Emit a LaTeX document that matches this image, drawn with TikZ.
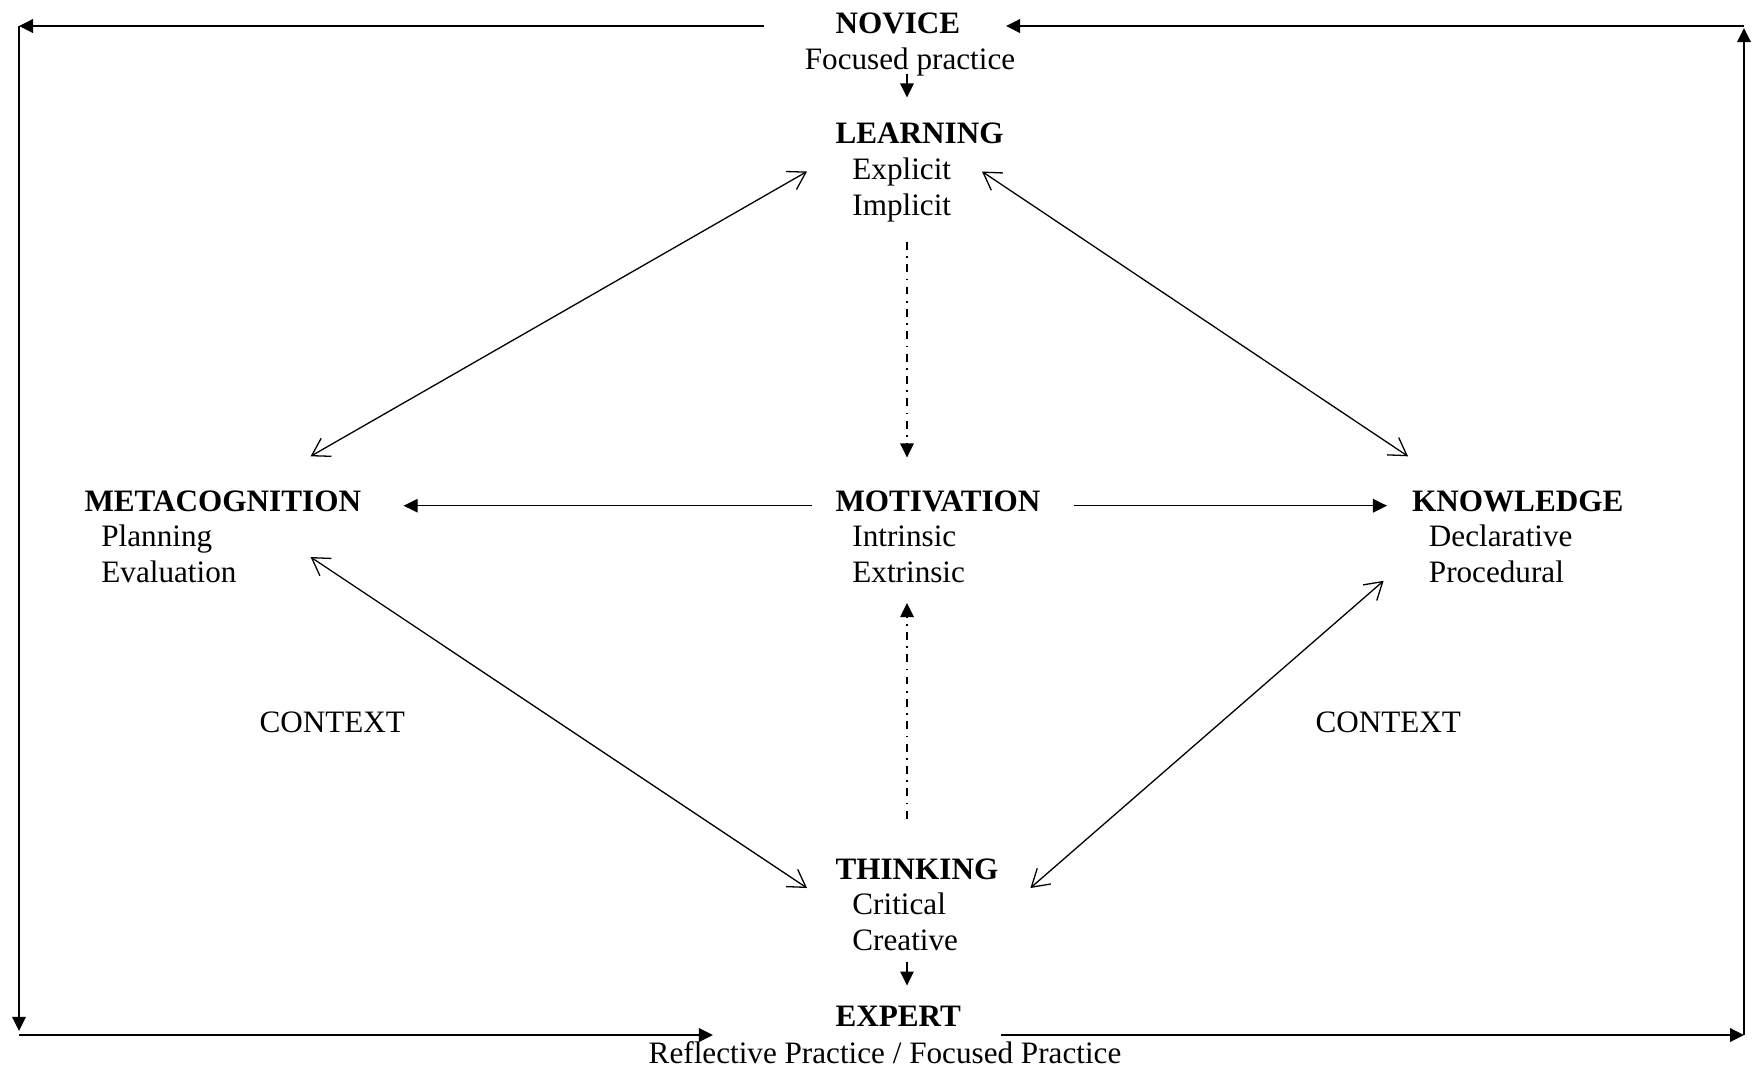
\documentclass[tikz,border=0pt]{standalone}
\usepackage{fontspec}
\setmainfont{Liberation Serif}
\usetikzlibrary{arrows.meta}
\newcommand\ind{\hspace*{6.5pt}}
\begin{document}
\begin{tikzpicture}[x=0.385pt,y=-0.385pt,
  every node/.style={inner sep=0pt,font=\fontsize{12}{13.8}\selectfont},
  concept/.style={align=left,anchor=base west},
  frame/.style={line width=0.8pt,-{Triangle[length=5.4pt,width=5.2pt]}},
  push/.style={line width=0.45pt,-{Triangle[length=5.4pt,width=5.2pt]}},
  link/.style={line width=0.5pt,{Straight Barb[length=6.5pt,width=8pt]}-{Straight Barb[length=6.5pt,width=8pt]}},
  feed/.style={line width=0.4pt,dash pattern=on 3pt off 2.5pt on 0.6pt off 2.5pt,-{Triangle[length=5.4pt,width=5.2pt]}}]
\useasboundingbox (0,0) rectangle (1758,1070);
% concepts (base of a three-line node = its last line)
\node[concept] (novice) at (835,33.5) {\textbf{NOVICE}};
\node[anchor=base] (focus) at (910,69.5) {Focused practice};
\node[concept] (learn) at (835,215.2) {\textbf{LEARNING}\\\ind Explicit\\\ind Implicit};
\node[concept] (meta) at (84,582.7) {\textbf{METACOGNITION}\\\ind Planning\\\ind Evaluation};
\node[concept] (motiv) at (835,582.7) {\textbf{MOTIVATION}\\\ind Intrinsic\\\ind Extrinsic};
\node[concept] (know) at (1411.5,582.7) {\textbf{KNOWLEDGE}\\\ind Declarative\\\ind Procedural};
\node[concept] (think) at (835,950.7) {\textbf{THINKING}\\\ind Critical\\\ind Creative};
\node[concept] (expert) at (835,1026) {\textbf{EXPERT}};
\node[anchor=base] (reflect) at (885,1063) {Reflective Practice / Focused Practice};
\node[concept] (ctxl) at (259,732) {CONTEXT};
\node[concept] (ctxr) at (1315,732) {CONTEXT};
% arrow ends
\foreach \n/\p in {tl/{19,26},tr/{1744,26},bl/{19,1035},br/{1744,1035},
    novl/{764,26},novr/{1006,26},expl/{713,1035},expr/{1001,1035},
    lm/{807,171.5},ml/{310.6,456.3},lk/{982,171.5},kl/{1408,456.3},
    mt/{310.6,557},tm/{807,888},kt/{1383.6,580.8},tk/{1030.4,888},
    vm/{811.8,505.7},mv/{403.6,505.7},vk/{1074,505.7},kv/{1387,505.7},
    lv/{907,242},vl/{907,457.5},tv/{907,818.5},vt/{907,603},
    fa/{907,74},fb/{907,97.5},ca/{907,962},cb/{907,985.5}}
  \coordinate (\n) at (\p);
% frame
\draw[frame] (novl) -- (tl);
\draw[frame,shorten >=1.6pt] (tl) -- (bl);
\draw[frame] (bl) -- (expl);
\draw[frame] (expr) -- (br);
\draw[frame,shorten >=0.8pt] (br) -- (tr);
\draw[frame] (tr) -- (novr);
% links
\draw[link] (lm) -- (ml);
\draw[link] (lk) -- (kl);
\draw[link] (mt) -- (tm);
\draw[link] (kt) -- (tk);
\draw[push] (vm) -- (mv);
\draw[push] (vk) -- (kv);
\draw[push] (fa) -- (fb);
\draw[push] (ca) -- (cb);
\draw[feed] (lv) -- (vl);
\draw[feed] (tv) -- (vt);
\end{tikzpicture}
\end{document}
